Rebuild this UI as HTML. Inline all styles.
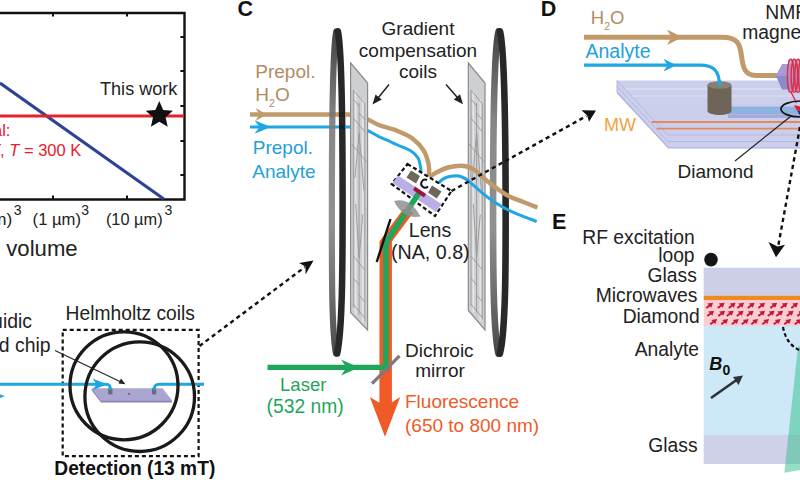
<!DOCTYPE html>
<html><head><meta charset="utf-8">
<style>
html,body{margin:0;padding:0;background:#fff;}
body{width:800px;height:480px;overflow:hidden;}
svg{display:block;font-family:"Liberation Sans",sans-serif;}
</style></head><body>
<svg width="800" height="480" viewBox="0 0 800 480">
<rect width="800" height="480" fill="#fff"/>

<!-- ===== Chart (panel B, cropped) ===== -->
<g id="chart">
<path d="M0 13 H184.5 V199.5 H0" fill="none" stroke="#111" stroke-width="2.4"/>
<g stroke="#111" stroke-width="2">
<path d="M53 13v3.6M127 13v3.6M53 199v-3.6M127 199v-3.6"/>
<path d="M184 37h-3.6M184 71h-3.6M184 106h-3.6M184 141h-3.6M184 175h-3.6"/>
</g>
<path d="M0 83 L163.5 198.8" stroke="#2f4394" stroke-width="3.1" fill="none"/>
<path d="M0 116 H184" stroke="#e8202a" stroke-width="3" fill="none"/>
<path id="star" d="M159.3 100.9 L163.2 109.9 L172.9 110.8 L165.6 117.2 L167.7 126.8 L159.3 121.8 L150.9 126.8 L153.0 117.2 L145.7 110.8 L155.4 109.9 Z" fill="#111"/>
<text x="100" y="95" font-size="18.1" fill="#222">This work</text>
<text x="-7" y="135.5" font-size="16.5" fill="#e8202a">al:</text>
<text x="-10" y="156.3" font-size="16.5" fill="#e8202a"><tspan font-style="italic">T</tspan>, <tspan font-style="italic">T</tspan> = 300 K</text>
<text x="-8" y="225.4" font-size="17.4" fill="#222">m)<tspan dy="-10" dx="1.5" font-size="14">3</tspan></text>
<text x="32.6" y="225.4" font-size="17.4" fill="#222" textLength="48.4" lengthAdjust="spacingAndGlyphs">(1 µm)</text><text x="81.3" y="215.4" font-size="14" fill="#222">3</text>
<text x="105.9" y="225.4" font-size="17.4" fill="#222" textLength="56.7" lengthAdjust="spacingAndGlyphs">(10 µm)</text><text x="164.5" y="215.4" font-size="14" fill="#222">3</text>
<text x="6.3" y="256.3" font-size="22.5" fill="#222" textLength="71.4" lengthAdjust="spacingAndGlyphs">volume</text>
</g>

<!-- ===== Detection (panel A bottom, cropped) ===== -->
<g id="detect">
<text x="65.6" y="319.5" font-size="19.4" fill="#222" textLength="129.4" lengthAdjust="spacingAndGlyphs">Helmholtz coils</text>
<text x="32" y="328" font-size="19.4" fill="#222" text-anchor="end">uidic</text>
<text x="50.6" y="351.7" font-size="19.4" fill="#222" text-anchor="end">d chip</text>
<rect x="62.7" y="329.8" width="135.9" height="126.4" fill="none" stroke="#111" stroke-width="2.2" stroke-dasharray="4 3"/>
<!-- chip -->
<path d="M91.7 388.3 L162.5 388.3 L172 400.3 L101 400.3 Z" fill="#aaa6d2"/>
<path d="M91.7 388.3 L101 400.3 L172 400.3 L172 402.6 L101 402.6 L91.7 390.6 Z" fill="#8a86b8"/>
<rect x="108.2" y="388" width="4.2" height="6.4" fill="#6b6b70"/>
<rect x="152" y="388" width="4.2" height="6.4" fill="#6b6b70"/>
<circle cx="129" cy="393.8" r="0.9" fill="#b01850"/>
<!-- blue line -->
<path d="M0 384.3 H105 C110 384.3 110.3 386 110.3 390" stroke="#1ea7e4" stroke-width="3" fill="none"/>
<path d="M154.1 390 C154.1 386 155 384.3 160 384.3 H204" stroke="#1ea7e4" stroke-width="3" fill="none"/>
<path d="M0 394.3 L4.8 396.2 L0 398.1 Z" fill="#1ea7e4"/>
<path d="M92.5 378.5 L107 384.3 L92.5 390.2 L96.5 384.3 Z" fill="#1ea7e4"/>
<circle cx="124" cy="385.8" r="54" fill="none" stroke="#1a1a1a" stroke-width="3.3"/>
<circle cx="139.7" cy="396.7" r="54.8" fill="none" stroke="#1a1a1a" stroke-width="3.3"/>
<path d="M55 350.5 L121 382" stroke="#222" stroke-width="1.1"/>
<path d="M125.5 384.2 L118.5 383.6 L121 378.6 Z" fill="#222"/>
<text x="54.3" y="475.4" font-size="19.5" font-weight="bold" fill="#111" textLength="161" lengthAdjust="spacingAndGlyphs">Detection (13 mT)</text>
</g>

<!-- dotted arrow A->C -->
<path d="M199.5 346 L305 267" stroke="#111" stroke-width="2.4" stroke-dasharray="4.2 3.5" fill="none"/>
<path d="M313.5 260.5 L299 263 L305.5 266.5 L305.5 274.5 Z" fill="#111"/>


<!-- C graphics -->
<g id="cgfx">
<!-- tubes (behind rings) left straight parts -->
<path d="M250 127 H346" fill="none" stroke="#1ea7e4" stroke-width="3"/>
<path d="M250 114.5 H346" fill="none" stroke="#c19a6b" stroke-width="4.4"/>
<path d="M255.5 108 L266.8 114.5 L255.5 121 L259.3 114.5 Z" fill="#c19a6b"/>
<path d="M254.5 120.2 L271 127 L254.5 133.8 L259.5 127 Z" fill="#1ea7e4"/>

<!-- rings -->
<defs><linearGradient id="rg" gradientUnits="userSpaceOnUse" x1="0" y1="28" x2="0" y2="357">
<stop offset="0" stop-color="#2c2c2c"/><stop offset="0.12" stop-color="#4e4e4e"/><stop offset="0.3" stop-color="#7c7c7c"/><stop offset="0.6" stop-color="#858585"/><stop offset="0.8" stop-color="#606060"/><stop offset="0.93" stop-color="#454545"/><stop offset="1" stop-color="#2c2c2c"/></linearGradient></defs>
<g fill="none" stroke-width="6.2" opacity="0.9" stroke-linecap="round">
<path d="M336.3 31.3 C333.5 45 332 90 331.9 192 C331.8 270 331.5 330 336 353.5" stroke="url(#rg)"/>
<path d="M337.9 31.3 C340.9 45 342.5 90 342.6 192 C342.7 270 342.3 330 337.2 353.5" stroke="#111" stroke-width="6.5"/>
<path d="M498.6 31.3 C494.8 45 493.3 90 493.1 192 C492.9 270 493.3 332 498.5 353.7" stroke="url(#rg)" stroke-width="6.6"/>
<path d="M500 31.3 C503.5 45 505.3 90 505.6 192 C505.9 270 505.5 332 499.9 353.7" stroke="#111" stroke-width="6.6"/>
</g>

<!-- blue tube in (right of plate) -->
<path d="M345.0 127 C346.7 127 351.2 126.8 355.0 127.3 C358.8 127.9 363.5 128.9 367.5 130.5 C371.5 132.1 375.1 134.8 378.8 136.6 C382.6 138.4 386.9 140.1 390.0 141.5 C393.1 142.9 394.1 143.5 397.5 145.0 C400.9 146.5 407.2 148.5 410.7 150.7 C414.1 152.9 416.5 155.1 418.2 158.2 C419.9 161.2 420.4 166.4 420.8 169.0 C421.2 171.6 420.6 173.2 420.5 174.0" fill="none" stroke="#1ea7e4" stroke-width="3"/>
<!-- brown tube in -->
<path d="M345.0 114.5 C346.2 114.5 349.5 114.4 352.0 114.7 C354.5 115.0 357.4 115.7 360.0 116.5 C362.6 117.3 364.4 117.9 367.5 119.3 C370.6 120.7 375.1 123.5 378.8 125.0 C382.6 126.5 386.9 127.5 390.0 128.5 C393.1 129.5 393.8 129.3 397.5 131.0 C401.2 132.7 408.1 135.2 412.5 138.5 C416.9 141.8 421.1 146.5 423.8 150.7 C426.5 154.9 427.6 159.8 428.5 163.8 C429.4 167.9 429.2 172.1 429.0 175.0 C428.8 177.9 427.8 180.0 427.5 181.0" fill="none" stroke="#c19a6b" stroke-width="4.4"/>

<!-- left plate -->
<path d="M350.6 63 L367.6 83 L367.6 330 L350.6 312.5 Z" fill="#cecfd2" stroke="#8a8a8a" stroke-width="1.2"/>
<path d="M355.7 91.0 L355.7 314.5 M362.8 99.4 L362.8 322.9" stroke="#e4e5e7" stroke-width="1.6" fill="none"/>
<path d="M353.3 90.2 L353.3 307.7 M359.1 103.0 L359.1 314.5 M364.9 103.8 L364.9 321.3 M353.3 90.2 L364.9 103.8 M353.3 99.2 L359.1 106.0 M359.1 113.0 L364.9 119.8 M353.3 118.2 L364.9 131.8 M351.5 144.0 L366.8 162.0 M353.3 256.2 L364.9 269.8 M353.3 278.2 L359.1 285.0 M359.1 295.0 L364.9 301.8 M353.3 304.2 L364.9 317.8 M354.9 178.0 L359.1 133.0 L363.9 190.6 M355.7 204.0 L359.1 258.0 L362.8 214.4" stroke="#979797" stroke-width="0.9" fill="none"/>
<!-- right plate -->
<path d="M468.3 63 L485 83 L485 330 L468.3 310.5 Z" fill="#cecfd2" stroke="#8a8a8a" stroke-width="1.2"/>
<path d="M473.3 91.0 L473.3 312.5 M480.3 99.4 L480.3 320.9" stroke="#e4e5e7" stroke-width="1.6" fill="none"/>
<path d="M471.0 90.2 L471.0 305.7 M476.6 103.0 L476.6 312.5 M482.3 103.8 L482.3 319.3 M471.0 90.2 L482.3 103.8 M471.0 99.2 L476.6 106.0 M476.6 113.0 L482.3 119.8 M471.0 118.2 L482.3 131.8 M469.1 144.0 L484.2 162.0 M471.0 256.2 L482.3 269.8 M471.0 278.2 L476.6 285.0 M476.6 295.0 L482.3 301.8 M471.0 304.2 L482.3 317.8 M472.5 178.0 L476.6 133.0 L481.3 190.6 M473.3 204.0 L476.6 258.0 L480.3 214.4" stroke="#979797" stroke-width="0.9" fill="none"/>

<!-- blue tube out -->
<path d="M438.5 184.0 C438.9 183.4 439.6 181.6 441.0 180.5 C442.4 179.4 444.2 178.1 446.7 177.3 C449.2 176.5 453.2 175.9 455.8 175.8 C458.4 175.8 459.9 176.2 462.0 177.0 C464.1 177.8 465.0 178.2 468.3 180.8 C471.6 183.4 477.2 188.9 481.7 192.5 C486.1 196.1 490.0 199.3 495.0 202.5 C500.0 205.7 506.4 209.2 511.7 211.7 C517.0 214.2 522.5 216.1 526.7 217.7 C530.9 219.3 535.0 220.9 536.7 221.5" fill="none" stroke="#1ea7e4" stroke-width="3"/>
<!-- brown tube out -->
<path d="M427.5 181.0 C428.0 180.2 429.0 177.9 430.5 176.5 C432.0 175.1 433.8 173.8 436.7 172.3 C439.6 170.8 443.8 168.6 448.0 167.5 C452.2 166.4 458.0 165.8 461.7 165.8 C465.4 165.8 467.5 166.6 470.0 167.6 C472.5 168.6 473.4 169.1 476.7 171.7 C480.0 174.3 485.0 179.4 490.0 183.3 C495.0 187.2 501.1 191.9 506.7 195.0 C512.2 198.1 518.2 199.9 523.3 202.0 C528.4 204.1 535.1 206.6 537.5 207.5" fill="none" stroke="#c19a6b" stroke-width="4.4"/>

<!-- chip box + slab -->
<path d="M407.5 164 L451.5 191 L435 216 L391.7 184 Z" fill="#fff" stroke="#111" stroke-width="2.2" stroke-dasharray="4 2.6"/>
<path d="M398 175.5 L441.5 204 L436 212 L392.5 183 Z" fill="#b9aee6"/>
<!-- beams -->
<path d="M403.3 209 L379.5 241.3 L379.4 403 L391.9 403 L391.9 241.5 L413.5 212.5 Z" fill="#f05a28"/>
<path d="M369.8 397 L378.5 402.3 L392 402.3 L400.2 397 L385 436.8 Z" fill="#f05a28"/>
<path d="M419.5 192 L410.3 206 L387.9 239.4 L385.9 243.5 L385.9 371" fill="none" stroke="#1fa65a" stroke-width="5.6" stroke-linejoin="round"/>
<path d="M267.5 367.4 H388.9" stroke="#1fa65a" stroke-width="5.4"/>
<path d="M341 359.5 L359 367.5 L341 375.5 L346.5 367.5 Z" fill="#1fa65a"/>
<path d="M390.5 219 L376.7 262" stroke="#111" stroke-width="2.4"/>
<path d="M399.5 355.8 L372 383.6" stroke="#7a7a80" stroke-width="3.3"/>
<!-- chip parts -->
<path d="M411 170.5 L420 176 L416 183.5 L406.5 177.5 Z" fill="#6f675a"/>
<path d="M432 185.5 L441.5 191.5 L436.7 198.5 L428 192.5 Z" fill="#6f675a"/>
<path d="M415 186.5 L426 194 L424 197.5 L413 190 Z" fill="#a3123f"/>
<path d="M427 180 A4 4 0 1 0 428 186.5" fill="none" stroke="#111" stroke-width="2"/>
<!-- lens -->
<path d="M394 201 Q410 197 420.5 216.5 Q403 219.5 394 201 Z" fill="#8f8f8f" opacity="0.85"/>

<!-- arrows from label -->
<path d="M389 84.5 L376 100.5" stroke="#222" stroke-width="1.5"/>
<path d="M372.5 104.5 L375.5 94.5 L381.8 99.6 Z" fill="#222"/>
<path d="M446 84.5 L460 100.5" stroke="#222" stroke-width="1.5"/>
<path d="M463 104.2 L453.8 99.5 L460 94.3 Z" fill="#222"/>

<!-- dotted arrow chip -> D -->
<path d="M451.5 191 L586.5 116" stroke="#111" stroke-width="2.4" stroke-dasharray="4.2 3.5" fill="none"/>
<path d="M596 110.6 L581.5 110.3 L587.2 115.6 L589 121.8 Z" fill="#111"/>
</g>

<!-- ===== Panel C ===== -->
<g id="panelC">
<text x="237.5" y="15.9" font-size="21.5" font-weight="bold" fill="#111">C</text>
<text x="418" y="35" font-size="19" text-anchor="middle" fill="#222">Gradient</text>
<text x="418" y="57" font-size="19" text-anchor="middle" fill="#222">compensation</text>
<text x="418" y="78" font-size="19" text-anchor="middle" fill="#222">coils</text>
<text x="255.3" y="77.5" font-size="19" fill="#b08c62">Prepol.</text>
<text x="255.3" y="101" font-size="19" fill="#b08c62">H<tspan dy="6.3" font-size="10.5">2</tspan><tspan dy="-6.3">O</tspan></text>
<text x="252.8" y="154" font-size="19" fill="#22a0dc">Prepol.</text>
<text x="252.3" y="177.5" font-size="19" fill="#22a0dc">Analyte</text>
<text x="430" y="237.3" font-size="19.6" text-anchor="middle" fill="#222">Lens</text>
<text x="430.3" y="258.9" font-size="19.7" text-anchor="middle" fill="#222">(NA, 0.8)</text>
<text x="405" y="357" font-size="19" fill="#222">Dichroic</text>
<text x="440" y="377" font-size="19" text-anchor="middle" fill="#222">mirror</text>
<text x="405" y="408" font-size="19" fill="#f05a28">Fluorescence</text>
<text x="405" y="432" font-size="19" fill="#f05a28">(650 to 800 nm)</text>
<text x="303.3" y="390.5" font-size="18.6" text-anchor="middle" fill="#1fa65a">Laser</text>
<text x="305.2" y="413.2" font-size="19.3" text-anchor="middle" fill="#1fa65a">(532 nm)</text>
</g>

<!-- ===== Panel D ===== -->
<g id="panelD">
<text x="540.8" y="15.5" font-size="21.5" font-weight="bold" fill="#111">D</text>
<!-- slab -->
<path d="M617 80.5 H800 V148 H668.5 L617 92.5 Z" fill="#cccfec"/>
<path d="M617 80.5 L667.5 135 H800" fill="none" stroke="#b3b8e2" stroke-width="1"/>
<path d="M617 86.5 L668 141.5 H800" fill="none" stroke="#b3b8e2" stroke-width="1"/>
<path d="M617 92.5 L668.5 148 H800" fill="none" stroke="#a9aedb" stroke-width="1.2"/>
<path d="M617 80.5 V92.5" stroke="#b3b8e2" stroke-width="1"/>
<path d="M625 88.8 H800 M632 96 H800" stroke="#dcdff4" stroke-width="1.2" fill="none"/>
<!-- blue channel -->
<path d="M728 106.5 H800 V114.5 H728 Z" fill="#8fb3df"/>
<path d="M728 114.5 H800 V118 H728 Z" fill="#a9a8dc"/>
<!-- MW lines -->
<path d="M651.5 122 H800 M656.5 128.7 H800" stroke="#e28a5c" stroke-width="1.8" fill="none"/>
<!-- brown tube -->
<path d="M584 37.2 H722 C738 37.2 740 44 741.5 56 C743 68 745 75.5 756 75.5 H778" fill="none" stroke="#c19a6b" stroke-width="5"/>
<path d="M667 29.5 L682.5 37.2 L667 45 L671.5 37.2 Z" fill="#c19a6b"/>
<!-- blue tube -->
<path d="M584 65.2 H700 C713 65.2 719.5 70 719.5 86" fill="none" stroke="#1ea7e4" stroke-width="3.2"/>
<path d="M663.5 58.8 L676.5 65.2 L663.5 71.6 L667.5 65.2 Z" fill="#1ea7e4"/>
<!-- cylinder -->
<path d="M707.5 85 V111 A12 4 0 0 0 731.5 111 V85 Z" fill="#6e6558"/>
<ellipse cx="719.5" cy="85" rx="12" ry="3.8" fill="#8a8072"/>
<path d="M719.5 80 V86" stroke="#1ea7e4" stroke-width="3.2"/>
<!-- NMR coil -->
<path d="M775.8 75.8 L782 64 H800 V76 H775.8 Z" fill="#a89bd6"/>
<path d="M775.8 75.8 H800 V89.5 H782 Z" fill="#8a8bcc"/>
<rect x="788" y="59.5" width="12" height="32.5" fill="#c48cb6" opacity="0.75"/>
<g fill="none" stroke="#db2f4b" stroke-width="1.4">
<ellipse cx="790.7" cy="75.8" rx="3.3" ry="16.6"/>
<ellipse cx="794.4" cy="75.8" rx="3.3" ry="16.6"/>
<ellipse cx="798.1" cy="75.8" rx="3.3" ry="16.6"/>
<ellipse cx="801.8" cy="75.8" rx="3.3" ry="16.6"/>
<path d="M791 92 L796.5 103"/>
</g>
<!-- black ellipse & markers -->
<path d="M794 105 L800 106.5 V111 L796.5 110 Z" fill="#e02030"/>
<path d="M797 110.5 L800 111 V115.5 Z" fill="#203080"/>
<ellipse cx="800.5" cy="109" rx="19.5" ry="8" fill="none" stroke="#111" stroke-width="1.7"/>
<path d="M790.5 116.5 L735 161" stroke="#222" stroke-width="1.2"/>
<!-- dotted line D -> E -->
<path d="M800 127 L778.4 245" stroke="#111" stroke-width="2.4" stroke-dasharray="4.2 3.5" fill="none"/>
<path d="M776 257.3 L768.5 242 L777.6 246.5 L785 244.8 Z" fill="#111"/>
<!-- labels -->
<text x="590.8" y="24" font-size="18.5" fill="#b08c62">H<tspan dy="6.3" font-size="10.5">2</tspan><tspan dy="-6.3">O</tspan></text>
<text x="585.5" y="58.3" font-size="19.5" fill="#22a0dc">Analyte</text>
<text x="604" y="131" font-size="18" fill="#f0a23c">MW</text>
<text x="677.5" y="177.5" font-size="19" fill="#222">Diamond</text>
<text x="765.3" y="18.8" font-size="19.3" fill="#222">NMR</text>
<text x="742.3" y="38.8" font-size="19.3" fill="#222">magnet</text>
</g>

<!-- ===== Panel E ===== -->
<g id="panelE">
<text x="552" y="228.7" font-size="21.5" font-weight="bold" fill="#111">E</text>
<rect x="703.7" y="267.7" width="97" height="28.3" fill="#cdcfe9"/>
<rect x="703.7" y="295.8" width="97" height="4.4" fill="#f08a1e"/>
<rect x="703.7" y="300" width="97" height="26" fill="#f9cdd1"/>
<rect x="703.7" y="326" width="97" height="109" fill="#cde9f8"/>
<rect x="703.7" y="435" width="97" height="29" fill="#cfd0ea"/>
<path d="M706.3 308.0 L710.0 305.2" stroke="#c4173a" stroke-width="2"/><path d="M713.1 302.8 L707.3 303.6 L711.3 307.8 Z" fill="#c4173a"/>
<path d="M717.8 308.0 L721.5 305.2" stroke="#c4173a" stroke-width="2"/><path d="M724.6 302.8 L718.8 303.6 L722.8 307.8 Z" fill="#c4173a"/>
<path d="M728.8 308.0 L732.5 305.2" stroke="#c4173a" stroke-width="2"/><path d="M735.6 302.8 L729.8 303.6 L733.8 307.8 Z" fill="#c4173a"/>
<path d="M737.3 308.0 L741.0 305.2" stroke="#c4173a" stroke-width="2"/><path d="M744.1 302.8 L738.3 303.6 L742.3 307.8 Z" fill="#c4173a"/>
<path d="M747.8 308.0 L751.5 305.2" stroke="#c4173a" stroke-width="2"/><path d="M754.6 302.8 L748.8 303.6 L752.8 307.8 Z" fill="#c4173a"/>
<path d="M758.3 308.0 L762.0 305.2" stroke="#c4173a" stroke-width="2"/><path d="M765.1 302.8 L759.3 303.6 L763.3 307.8 Z" fill="#c4173a"/>
<path d="M770.3 308.0 L774.0 305.2" stroke="#c4173a" stroke-width="2"/><path d="M777.1 302.8 L771.3 303.6 L775.3 307.8 Z" fill="#c4173a"/>
<path d="M780.8 308.0 L784.5 305.2" stroke="#c4173a" stroke-width="2"/><path d="M787.6 302.8 L781.8 303.6 L785.8 307.8 Z" fill="#c4173a"/>
<path d="M791.3 308.0 L795.0 305.2" stroke="#c4173a" stroke-width="2"/><path d="M798.1 302.8 L792.3 303.6 L796.3 307.8 Z" fill="#c4173a"/>
<path d="M801.8 308.0 L805.5 305.2" stroke="#c4173a" stroke-width="2"/><path d="M808.6 302.8 L802.8 303.6 L806.8 307.8 Z" fill="#c4173a"/>
<path d="M707.3 316.0 L711.0 313.2" stroke="#c4173a" stroke-width="2"/><path d="M714.1 310.8 L708.3 311.6 L712.3 315.8 Z" fill="#c4173a"/>
<path d="M718.3 316.0 L722.0 313.2" stroke="#c4173a" stroke-width="2"/><path d="M725.1 310.8 L719.3 311.6 L723.3 315.8 Z" fill="#c4173a"/>
<path d="M726.8 316.0 L730.5 313.2" stroke="#c4173a" stroke-width="2"/><path d="M733.6 310.8 L727.8 311.6 L731.8 315.8 Z" fill="#c4173a"/>
<path d="M736.8 316.0 L740.5 313.2" stroke="#c4173a" stroke-width="2"/><path d="M743.6 310.8 L737.8 311.6 L741.8 315.8 Z" fill="#c4173a"/>
<path d="M746.8 316.0 L750.5 313.2" stroke="#c4173a" stroke-width="2"/><path d="M753.6 310.8 L747.8 311.6 L751.8 315.8 Z" fill="#c4173a"/>
<path d="M758.3 316.0 L762.0 313.2" stroke="#c4173a" stroke-width="2"/><path d="M765.1 310.8 L759.3 311.6 L763.3 315.8 Z" fill="#c4173a"/>
<path d="M767.8 316.0 L771.5 313.2" stroke="#c4173a" stroke-width="2"/><path d="M774.6 310.8 L768.8 311.6 L772.8 315.8 Z" fill="#c4173a"/>
<path d="M776.3 316.0 L780.0 313.2" stroke="#c4173a" stroke-width="2"/><path d="M783.1 310.8 L777.3 311.6 L781.3 315.8 Z" fill="#c4173a"/>
<path d="M786.8 316.0 L790.5 313.2" stroke="#c4173a" stroke-width="2"/><path d="M793.6 310.8 L787.8 311.6 L791.8 315.8 Z" fill="#c4173a"/>
<path d="M797.3 316.0 L801.0 313.2" stroke="#c4173a" stroke-width="2"/><path d="M804.1 310.8 L798.3 311.6 L802.3 315.8 Z" fill="#c4173a"/>
<path d="M710.3 324.3 L714.0 321.5" stroke="#c4173a" stroke-width="2"/><path d="M717.1 319.1 L711.3 319.9 L715.3 324.1 Z" fill="#c4173a"/>
<path d="M721.3 324.3 L725.0 321.5" stroke="#c4173a" stroke-width="2"/><path d="M728.1 319.1 L722.3 319.9 L726.3 324.1 Z" fill="#c4173a"/>
<path d="M731.8 324.3 L735.5 321.5" stroke="#c4173a" stroke-width="2"/><path d="M738.6 319.1 L732.8 319.9 L736.8 324.1 Z" fill="#c4173a"/>
<path d="M741.8 324.3 L745.5 321.5" stroke="#c4173a" stroke-width="2"/><path d="M748.6 319.1 L742.8 319.9 L746.8 324.1 Z" fill="#c4173a"/>
<path d="M751.3 324.3 L755.0 321.5" stroke="#c4173a" stroke-width="2"/><path d="M758.1 319.1 L752.3 319.9 L756.3 324.1 Z" fill="#c4173a"/>
<path d="M762.3 324.3 L766.0 321.5" stroke="#c4173a" stroke-width="2"/><path d="M769.1 319.1 L763.3 319.9 L767.3 324.1 Z" fill="#c4173a"/>
<path d="M773.8 324.3 L777.5 321.5" stroke="#c4173a" stroke-width="2"/><path d="M780.6 319.1 L774.8 319.9 L778.8 324.1 Z" fill="#c4173a"/>
<path d="M784.3 324.3 L788.0 321.5" stroke="#c4173a" stroke-width="2"/><path d="M791.1 319.1 L785.3 319.9 L789.3 324.1 Z" fill="#c4173a"/>
<path d="M794.8 324.3 L798.5 321.5" stroke="#c4173a" stroke-width="2"/><path d="M801.6 319.1 L795.8 319.9 L799.8 324.1 Z" fill="#c4173a"/>
<path d="M798 346.5 L800 346.5 L800 470 L784.3 472.8 Z" fill="#2fc08a" opacity="0.5"/>
<path d="M783 327 C785 338 790 346 801 351" fill="none" stroke="#111" stroke-width="2.2" stroke-dasharray="3.8 2.6"/>
<circle cx="711" cy="259.6" r="6.8" fill="#151515"/>
<path d="M711 398 L736.5 380" stroke="#2e3238" stroke-width="2.7"/>
<path d="M743 375.5 L733 377 L738.5 385 Z" fill="#2e3238"/>
<text x="709.3" y="370.3" font-size="18" font-weight="bold" font-style="italic" fill="#111">B<tspan dy="4.7" dx="0.3" font-size="14" font-style="normal">0</tspan></text>
<g font-size="19.3" fill="#222" text-anchor="end">
<text x="694.8" y="244.2">RF excitation</text>
<text x="694.6" y="261.5">loop</text>
<text x="696.8" y="282">Glass</text>
<text x="697.5" y="302">Microwaves</text>
<text x="699.8" y="322.5">Diamond</text>
<text x="699" y="356">Analyte</text>
<text x="697.6" y="451.5">Glass</text>
</g>
</g>
</svg>
</body></html>
